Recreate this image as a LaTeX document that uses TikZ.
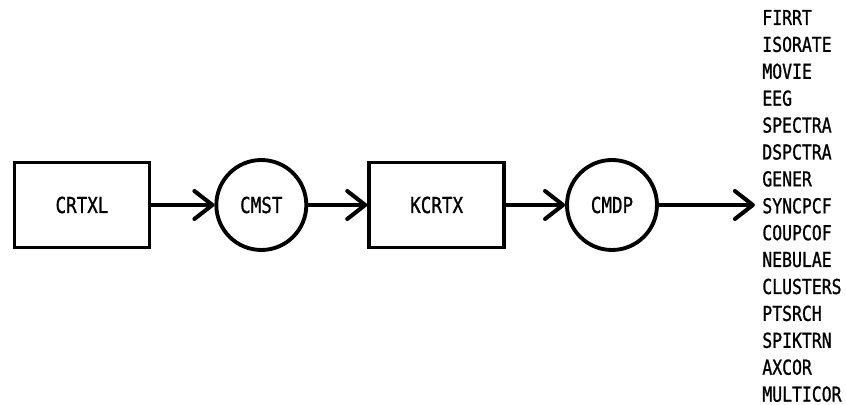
\documentclass[tikz,border=0pt]{standalone}
\usepackage{fontspec}
\setmainfont{DejaVu Sans Mono}[FakeStretch=0.8, FakeBold=1]
\usetikzlibrary{positioning, arrows.meta}

\begin{document}
\begin{tikzpicture}[
    x = 0.02cm, y = -0.02cm,
    every node/.style = {font=\fontsize{12.5}{15}\selectfont},
    prog/.style = {draw, rectangle, minimum width=2.7cm, minimum height=1.7cm,
                   line width=2.2pt},
    file/.style = {draw, circle, minimum size=1.8cm, inner sep=0pt,
                   line width=2.2pt},
    outname/.style = {anchor=west, inner sep=0pt,
                      font=\fontsize{11.7}{14}\selectfont},
    arr/.style = {-{Straight Barb[length=0.36cm, width=0.56cm, round]},
                  line width=2.3pt},
]
\useasboundingbox (0,0) rectangle (846,405);

% processing chain
\node[prog] (crtxl) at (82,205) {CRTXL};
\node[file, right=1.26cm of crtxl] (cmst) {CMST};
\node[prog, right=1.18cm of cmst] (kcrtx) {KCRTX};
\node[file, right=1.18cm of kcrtx] (cmdp) {CMDP};
\coordinate[right=1.92cm of cmdp] (out);

% output programs
\foreach \name [count=\i from 0] in {FIRRT, ISORATE, MOVIE, EEG, SPECTRA,
    DSPCTRA, GENER, SYNCPCF, COUPCOF, NEBULAE, CLUSTERS, PTSRCH, SPIKTRN,
    AXCOR, MULTICOR}
  \node[outname] (p\i) at (762,17.5+26.9*\i) {\name};

% Arrows
\draw[arr] (crtxl) -- (cmst);
\draw[arr] (cmst) -- (kcrtx);
\draw[arr] (kcrtx) -- (cmdp);
\draw[arr] (cmdp) -- (out);
\end{tikzpicture}
\end{document}
